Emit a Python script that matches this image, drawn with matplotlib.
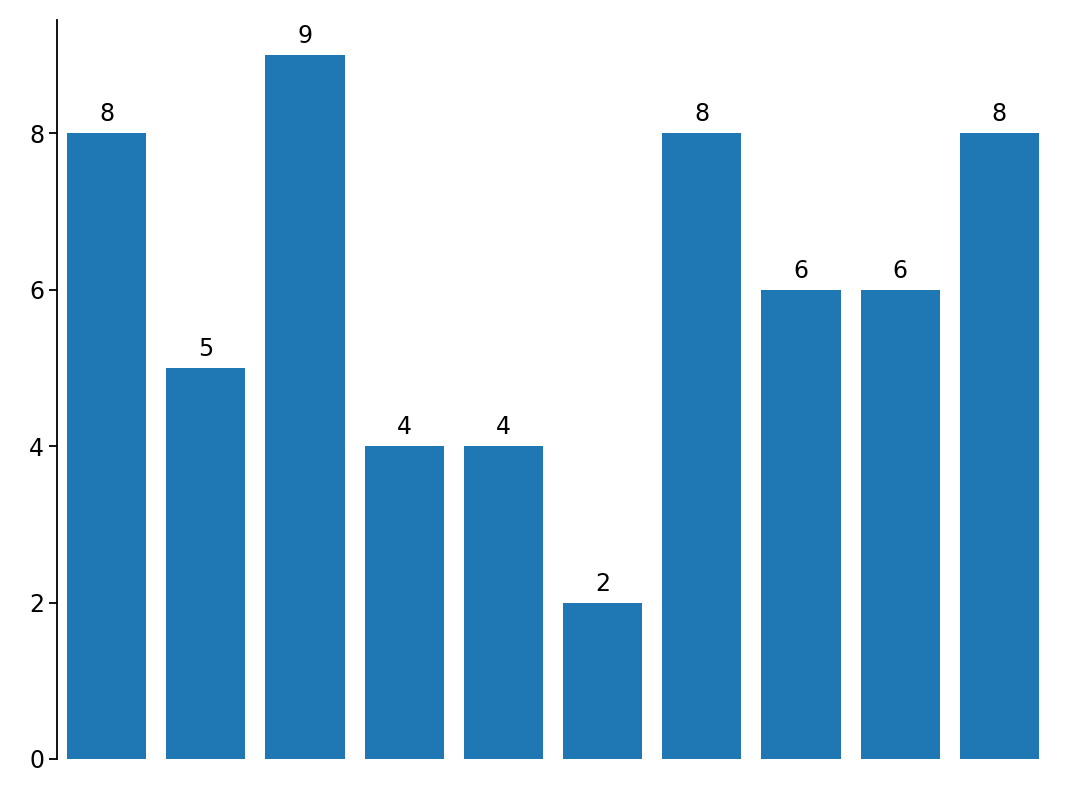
import numpy as np
import matplotlib.pyplot as plt

# данные
categories = list(range(10))
values = [8, 5, 9, 4, 4, 2, 8, 6, 6, 8]

fig, ax = plt.subplots(figsize=(10.69, 7.96), dpi=100)
fig.subplots_adjust(left=0.0533, right=0.9813, top=0.975, bottom=0.0465)

bars = ax.bar(categories, values, width=0.8, color='#1f77b4')
ax.bar_label(bars, padding=5, fontsize=17)

ax.set_xlim(-0.5, 9.5)
ax.set_xticks([])
ax.set_yticks([0, 2, 4, 6, 8])
ax.tick_params(axis='y', labelsize=17, length=5.8, width=1.3)

for side in ['top', 'right', 'bottom']:
    ax.spines[side].set_visible(False)
ax.spines['left'].set_linewidth(1.3)

plt.savefig('out.png')
